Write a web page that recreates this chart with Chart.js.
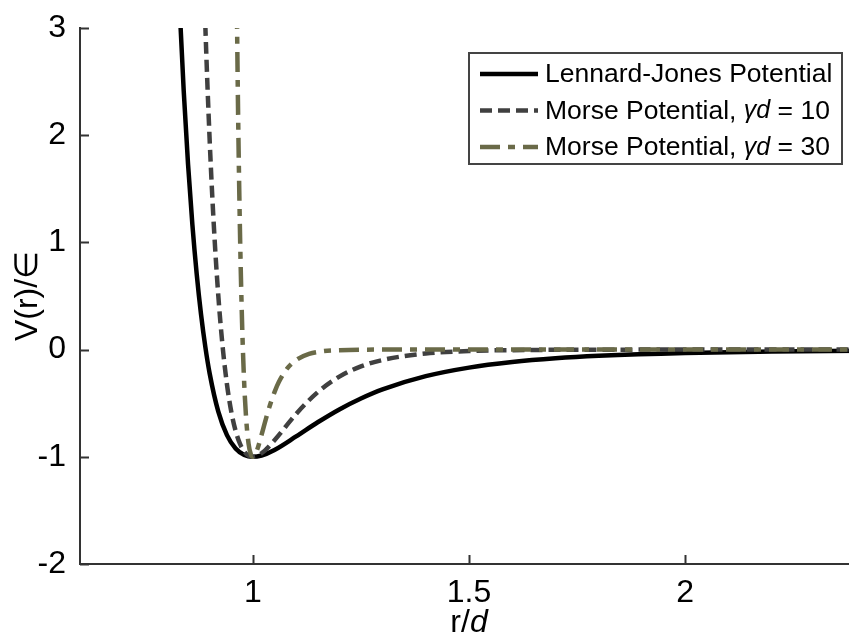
<!DOCTYPE html>
<html>
<head>
<meta charset="utf-8">
<script src="https://cdn.jsdelivr.net/npm/chart.js@4.4.0/dist/chart.umd.min.js"></script>
<style>
    html, body { margin: 0; padding: 0; overflow: hidden; background: #fff; }
    #wrap { width: 860px; height: 636px; }
</style>
</head>
<body>
<div id="wrap"><canvas id="chart" width="860" height="636"></canvas></div>
<script>
// values
const ljR = [0.83, 0.84, 0.85, 0.86, 0.87, 0.88, 0.89, 0.90, 0.92, 0.94, 0.96, 0.98, 1.0, 1.02, 1.05, 1.1, 1.15, 1.2, 1.25, 1.3, 1.4, 1.5, 1.6, 1.7, 1.8, 2.0, 2.2, 2.4];
const ljV = [3.24, 2.41, 1.727, 1.166, 0.706, 0.330, 0.024, -0.223, -0.579, -0.798, -0.923, -0.983, -1.0, -0.988, -0.936, -0.810, -0.678, -0.558, -0.456, -0.371, -0.248, -0.168, -0.116, -0.081, -0.058, -0.031, -0.018, -0.010];

const morse10R = [0.88, 0.89, 0.90, 0.91, 0.92, 0.93, 0.94, 0.95, 0.96, 0.97, 0.98, 0.99, 1.0, 1.02, 1.05, 1.1, 1.15, 1.2, 1.25, 1.3, 1.4, 1.5, 1.6, 1.8, 2.0, 2.4];
const morse10V = [4.383, 3.017, 1.953, 1.130, 0.502, 0.028, -0.324, -0.579, -0.758, -0.878, -0.951, -0.989, -1.0, -0.967, -0.845, -0.600, -0.397, -0.252, -0.157, -0.097, -0.036, -0.013, -0.005, -0.001, 0.0, 0.0];

const morse30R = [0.96, 0.965, 0.97, 0.975, 0.98, 0.985, 0.99, 0.995, 1.0, 1.005, 1.01, 1.02, 1.03, 1.04, 1.05, 1.06, 1.08, 1.1, 1.13, 1.16, 1.2, 1.3, 1.5, 2.4];
const morse30V = [4.383, 2.451, 1.130, 0.248, -0.324, -0.677, -0.878, -0.974, -1.0, -0.981, -0.933, -0.796, -0.648, -0.512, -0.397, -0.303, -0.173, -0.097, -0.040, -0.016, -0.005, 0.0, 0.0, 0.0];

const xTickVals = [1, 1.5, 2];
const yTickVals = [-2, -1, 0, 1, 2, 3];

const FONT = '"Liberation Sans", Arial, sans-serif';

function pts(xs, ys) {
    return xs.map((x, i) => ({ x: x, y: ys[i] }));
}

const legendItems = [
    { label: ['Lennard-Jones Potential'], color: '#000000', dash: [] },
    { label: ['Morse Potential, ', 'γd', ' = 10'], color: '#404040', dash: [12, 6] },
    { label: ['Morse Potential, ', 'γd', ' = 30'], color: '#6a6a48', dash: [20, 8, 7, 8] }
];

// inward ticks, axis titles and the boxed legend
const extras = {
    id: 'extras',
    afterDraw(chart) {
        const ctx = chart.ctx;
        const a = chart.chartArea;
        const xs = chart.scales.x, ys = chart.scales.y;
        ctx.save();
        ctx.strokeStyle = '#333';
        ctx.lineWidth = 2;
        ctx.beginPath();
        xTickVals.forEach(v => {
            const px = Math.round(xs.getPixelForValue(v)) + 0.5;
            ctx.moveTo(px, a.bottom);
            ctx.lineTo(px, a.bottom - 9);
        });
        yTickVals.forEach(v => {
            const py = Math.round(ys.getPixelForValue(v)) + 0.5;
            ctx.moveTo(a.left, py);
            ctx.lineTo(a.left + 9, py);
        });
        ctx.stroke();

        // axis titles
        ctx.fillStyle = '#000';
        ctx.textBaseline = 'alphabetic';
        ctx.font = '32px ' + FONT;
        const w1 = ctx.measureText('r/').width;
        ctx.font = 'italic 32px ' + FONT;
        const w2 = ctx.measureText('d').width;
        const x0 = (a.left + a.right) / 2 - (w1 + w2) / 2;
        ctx.textAlign = 'left';
        ctx.font = '32px ' + FONT;
        ctx.fillText('r/', x0, 632);
        ctx.font = 'italic 32px ' + FONT;
        ctx.fillText('d', x0 + w1, 632);

        ctx.save();
        ctx.translate(37, (a.top + a.bottom) / 2);
        ctx.rotate(-Math.PI / 2);
        ctx.textAlign = 'center';
        ctx.font = '32px ' + FONT;
        ctx.fillText('V(r)/∈', 0, 0);
        ctx.restore();

        // legend box
        const bx = 469, by = 53, bw = 373, bh = 111;
        ctx.fillStyle = '#fff';
        ctx.fillRect(bx, by, bw, bh);
        ctx.strokeStyle = '#444';
        ctx.lineWidth = 2;
        ctx.strokeRect(bx, by, bw, bh);
        const rows = [74, 110.5, 147];
        legendItems.forEach((it, i) => {
            const y = rows[i];
            ctx.strokeStyle = it.color;
            ctx.lineWidth = 4.5;
            ctx.setLineDash(it.dash);
            ctx.beginPath();
            ctx.moveTo(480, y);
            ctx.lineTo(538, y);
            ctx.stroke();
            ctx.setLineDash([]);
            let tx = 545;
            ctx.fillStyle = '#000';
            ctx.textAlign = 'left';
            ctx.textBaseline = 'middle';
            it.label.forEach((part, k) => {
                ctx.font = (k === 1 ? 'italic 25px ' : '26.5px ') + FONT;
                ctx.fillText(part, tx, y + 1);
                tx += ctx.measureText(part).width;
            });
        });
        ctx.restore();
    }
};

const lineStyle = { borderWidth: 4.5, pointRadius: 0, fill: false, cubicInterpolationMode: 'monotone', borderCapStyle: 'butt' };

new Chart(document.getElementById('chart'), {
    type: 'line',
    data: {
        datasets: [
            Object.assign({ label: 'Lennard-Jones Potential', data: pts(ljR, ljV), borderColor: '#000000', order: 2 }, lineStyle),
            Object.assign({ label: 'Morse Potential, γd = 10', data: pts(morse10R, morse10V), borderColor: '#404040', borderDash: [12, 6], order: 1 }, lineStyle),
            Object.assign({ label: 'Morse Potential, γd = 30', data: pts(morse30R, morse30V), borderColor: '#6a6a48', borderDash: [20, 8, 7, 8], order: 0 }, lineStyle)
        ]
    },
    options: {
        responsive: false,
        animation: false,
        layout: { padding: { top: 28, right: 2, left: 0, bottom: 0 } },
        plugins: { legend: { display: false }, tooltip: { enabled: false } },
        scales: {
            x: {
                type: 'linear', min: 0.6, max: 2.4,
                afterBuildTicks: s => { s.ticks = xTickVals.map(v => ({ value: v })); },
                afterFit: s => { s.height = 72; },
                grid: { display: false },
                border: { display: true, color: '#333', width: 2 },
                ticks: { color: '#000', font: { family: FONT, size: 32 }, padding: 2, maxRotation: 0, callback: v => String(v) }
            },
            y: {
                type: 'linear', min: -2, max: 3,
                afterBuildTicks: s => { s.ticks = yTickVals.map(v => ({ value: v })); },
                afterFit: s => { s.width = 80; },
                grid: { display: false },
                border: { display: true, color: '#333', width: 2 },
                ticks: { color: '#000', font: { family: FONT, size: 32 }, padding: 6, callback: v => String(v) }
            }
        }
    },
    plugins: [extras]
});
</script>
</body>
</html>
